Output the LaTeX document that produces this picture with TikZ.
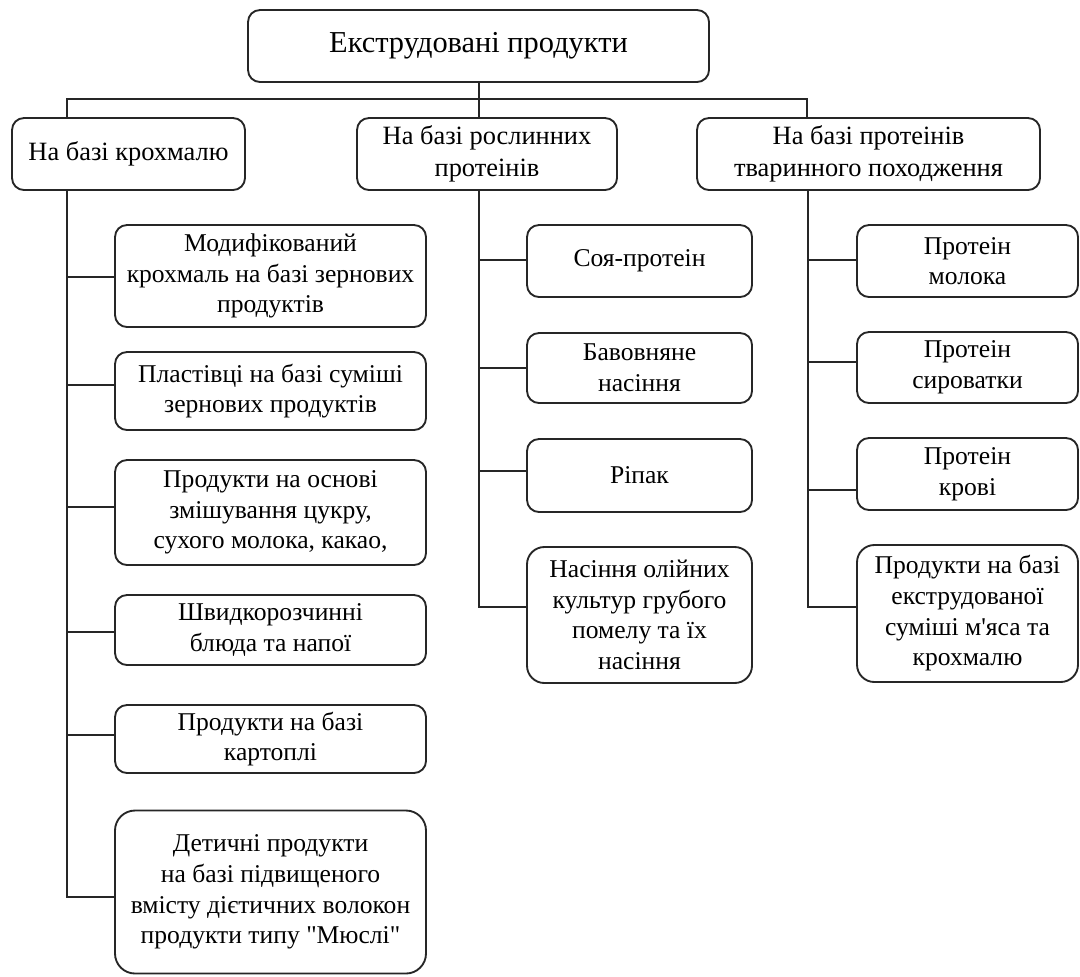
\documentclass[tikz,border=0pt]{standalone}
\usepackage{fontspec}
\setmainfont{Liberation Serif}
\begin{document}
\begin{tikzpicture}[x=0.75pt,y=-0.75pt,
  box/.style={draw=black!85, line width=1.4pt, rounded corners=9pt, align=center,
    inner sep=0pt, text=black, font=\fontsize{19.2}{23}\selectfont},
  head/.style={font=\fontsize{19.8}{24}\selectfont},
  sz/.style 2 args={minimum width=#1*0.75pt, minimum height=#2*0.75pt},
  conn/.style={draw=black!85, line width=1.4pt}]
\useasboundingbox (0,0) rectangle (1080,976);

% top
\node[box, sz={461}{72}, font=\fontsize{22.8}{27}\selectfont] (top) at (478.5,46) {Екструдовані продукти};

% level 1
\node[box, head, sz={233}{72}] (b1) at (128.5,154) {На базі крохмалю};
\node[box, head, sz={260}{72}] (b2) at (487,154) {На базі рослинних\\протеінів};
\node[box, head, sz={343}{72}] (b3) at (868.5,154) {На базі протеінів\\тваринного походження};

% left children
\node[box, sz={311}{102}] (c1) at (270.5,276) {Модифікований\\крохмаль на базі зернових\\продуктів};
\node[box, sz={311}{78}] (c2) at (270.5,391) {Пластівці на базі суміші\\зернових продуктів};
\node[box, sz={311}{105}] (c3) at (270.5,512.5) {Продукти на основі\\змішування цукру,\\сухого молока, какао,};
\node[box, sz={311}{70}] (c4) at (270.5,630) {Швидкорозчинні\\блюда та напої};
\node[box, sz={311}{68}] (c5) at (270.5,739) {Продукти на базі\\картоплі};
\node[box, sz={311}{163}, rounded corners=15pt] (c6) at (270.5,892) {Детичні продукти\\на базі підвищеного\\вмісту дієтичних волокон\\продукти типу \textquotedbl Мюслі\textquotedbl};

% middle children
\node[box, sz={225}{72}] (m1) at (639.5,261) {Соя-протеін};
\node[box, sz={225}{70}] (m2) at (639.5,368) {Бавовняне\\насіння};
\node[box, sz={225}{73}] (m3) at (639.5,475.5) {Ріпак};
\node[box, sz={225}{136}, rounded corners=13pt] (m4) at (639.5,615) {Насіння олійних\\культур грубого\\помелу та їх\\насіння};

% right children
\node[box, sz={221}{72}] (r1) at (967.5,261) {Протеін\\молока};
\node[box, sz={221}{71}] (r2) at (967.5,367.5) {Протеін\\сироватки};
\node[box, sz={221}{72}] (r3) at (967.5,474) {Протеін\\крові};
\node[box, sz={221}{137}, rounded corners=13pt] (r4) at (967.5,613.5) {Продукти на базі\\екструдованої\\суміші м\textquotesingle яса та\\крохмалю};

% bus
\coordinate (busL) at (67,99);
\coordinate (busR) at (807,99);
\coordinate (busM) at (479,99);
\draw[conn] (top.south -| busM) -- (busM);
\draw[conn] (b1.north -| busL) -- (busL) -- (busR) -- (b3.north -| busR);
\draw[conn] (busM) -- (b2.north -| busM);

% left trunk
\coordinate (lt) at (67,897);
\draw[conn] (b1.south -| lt) -- (lt) -- (lt -| c6.west);
\coordinate (l1) at (67,277);
\coordinate (l2) at (67,385);
\coordinate (l3) at (67,507);
\coordinate (l4) at (67,632);
\coordinate (l5) at (67,735);
\draw[conn] (l1) -- (l1 -| c1.west);
\draw[conn] (l2) -- (l2 -| c2.west);
\draw[conn] (l3) -- (l3 -| c3.west);
\draw[conn] (l4) -- (l4 -| c4.west);
\draw[conn] (l5) -- (l5 -| c5.west);

% middle trunk
\coordinate (mt) at (479,607);
\draw[conn] (b2.south -| mt) -- (mt) -- (mt -| m4.west);
\coordinate (n1) at (479,260);
\coordinate (n2) at (479,368);
\coordinate (n3) at (479,471);
\draw[conn] (n1) -- (n1 -| m1.west);
\draw[conn] (n2) -- (n2 -| m2.west);
\draw[conn] (n3) -- (n3 -| m3.west);

% right trunk
\coordinate (rt) at (808,607);
\draw[conn] (b3.south -| rt) -- (rt) -- (rt -| r4.west);
\coordinate (s1) at (808,260);
\coordinate (s2) at (808,362);
\coordinate (s3) at (808,490);
\draw[conn] (s1) -- (s1 -| r1.west);
\draw[conn] (s2) -- (s2 -| r2.west);
\draw[conn] (s3) -- (s3 -| r3.west);
\end{tikzpicture}
\end{document}
